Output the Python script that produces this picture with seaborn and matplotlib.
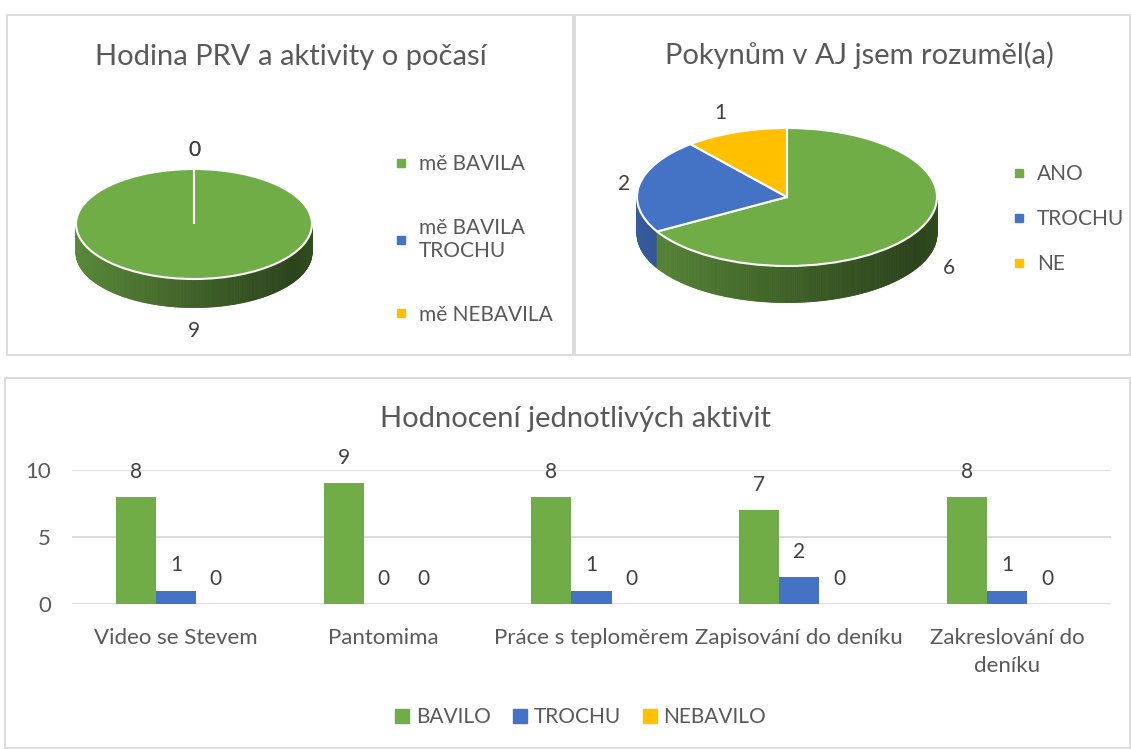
import numpy as np
import pandas as pd
import matplotlib
matplotlib.use("Agg")
import matplotlib.pyplot as plt
import seaborn as sns
from matplotlib.patches import Rectangle, Polygon
from matplotlib.lines import Line2D
from matplotlib.colors import to_rgb

# ---------------- data ----------------
pie1_title = "Hodina PRV a aktivity o počasí"
pie1_labels = ["mě BAVILA", "mě BAVILA\nTROCHU", "mě NEBAVILA"]
pie1_values = [9, 0, 0]

pie2_title = "Pokynům v AJ jsem rozuměl(a)"
pie2_labels = ["ANO", "TROCHU", "NE"]
pie2_values = [6, 2, 1]

bar_title = "Hodnocení jednotlivých aktivit"
activities = ["Video se Stevem", "Pantomima", "Práce s teploměrem",
              "Zapisování do deníku", "Zakreslování do\ndeníku"]
series_names = ["BAVILO", "TROCHU", "NEBAVILO"]
bavilo = [8, 9, 8, 7, 8]
trochu = [1, 0, 1, 2, 1]
nebavilo = [0, 0, 0, 0, 0]
yticks = [0, 5, 10]

colors = ["#70ad47", "#4472c4", "#ffc000"]
TXT = "#595959"
LBL = "#404040"

sns.set_theme(style="white")
plt.rcParams["font.family"] = ["Lato", "DejaVu Sans"]

W, H = 1131, 749
fig = plt.figure(figsize=(W / 100, H / 100), dpi=100)


def rect(left, top, right, bottom):
    return [left / W, 1 - bottom / H, (right - left) / W, (bottom - top) / H]


def fx(x):
    return x / W


def fy(y):
    return 1 - y / H


# panel borders
for (l, t, r, b) in [(7, 15, 573, 355), (575, 15, 1130, 355), (5, 378, 1130, 748)]:
    fig.add_artist(Rectangle((fx(l), fy(b)), (r - l) / W, (b - t) / H,
                             transform=fig.transFigure, fill=False,
                             edgecolor="#d9d9d9", linewidth=1.3))


def draw_pie(values, cx, cy, rx, ry, depth, label_r, below_shift):
    xl = (-1.6, 1.6)
    yl = (-2.4, 1.8)
    ax = fig.add_axes(rect(cx + xl[0] * rx, cy - yl[1] * ry,
                           cx + xl[1] * rx, cy - yl[0] * ry))
    wedges, _ = ax.pie(values, colors=colors, startangle=90, counterclock=False,
                       wedgeprops=dict(edgecolor="white", linewidth=1.5))
    for w in wedges:
        w.set_zorder(5)
    ax.set_aspect("auto")
    ax.set_xlim(xl)
    ax.set_ylim(yl)
    ax.axis("off")
    # 3D side (front half of the pie)
    thetas = np.linspace(180, 360, 241)
    for t1, t2 in zip(thetas[:-1], thetas[1:]):
        tm = (t1 + t2) / 2
        col = None
        for w, c in zip(wedges, colors):
            span = w.theta2 - w.theta1
            if span <= 0:
                continue
            if (tm - w.theta1) % 360 <= span:
                col = c
                break
        if col is None:
            continue
        xm = np.cos(np.radians(tm))
        f = 0.80 - 0.44 * ((xm + 1) / 2) ** 0.9
        if xm > 0.85:
            f += (xm - 0.85) * 0.5
        rgb = np.clip(np.array(to_rgb(col)) * f, 0, 1)
        a1, a2 = np.radians(t1), np.radians(t2)
        pts = [(np.cos(a1), np.sin(a1)), (np.cos(a2), np.sin(a2)),
               (np.cos(a2), np.sin(a2) - depth), (np.cos(a1), np.sin(a1) - depth)]
        ax.add_patch(Polygon(pts, closed=True, facecolor=rgb, edgecolor=rgb,
                             linewidth=0.6, zorder=2))
    # data labels
    for w, v, r in zip(wedges, values, label_r):
        mid = np.radians((w.theta1 + w.theta2) / 2)
        x = r * np.cos(mid)
        y = r * np.sin(mid)
        if np.sin(mid) < -0.1:
            y -= below_shift
        ax.text(x, y, f"{v}", ha="center", va="center", fontsize=15,
                color=LBL, zorder=6)
    return ax


# ---------------- pie 1 ----------------
ax1 = draw_pie(pie1_values, 194, 224, 118, 55, 0.52, [1.42, 1.35, 1.35], 0.52)
fig.text(fx(291), fy(57), pie1_title, ha="center", va="center",
         fontsize=21, color=TXT)
h1 = [Line2D([], [], marker="s", ls="", color=c, markersize=6) for c in colors]
fig.legend(h1, pie1_labels, loc="upper left",
           bbox_to_anchor=(fx(393), fy(154)), frameon=False, fontsize=15,
           labelcolor=TXT, handlelength=0.8, handletextpad=0.45,
           labelspacing=2.1, borderpad=0, borderaxespad=0)

# ---------------- pie 2 ----------------
ax2 = draw_pie(pie2_values, 787, 197, 150, 69, 0.53, [1.25, 1.1, 1.3], 0.4)
fig.text(fx(859), fy(55), pie2_title, ha="center", va="center",
         fontsize=21, color=TXT)
h2 = [Line2D([], [], marker="s", ls="", color=c, markersize=6) for c in colors]
fig.legend(h2, pie2_labels, loc="upper left",
           bbox_to_anchor=(fx(1011), fy(164)), frameon=False, fontsize=15,
           labelcolor=TXT, handlelength=0.8, handletextpad=0.45,
           labelspacing=1.2, borderpad=0, borderaxespad=0)

# ---------------- bar chart ----------------
df = pd.DataFrame({
    "activity": activities * 3,
    "series": [series_names[0]] * 5 + [series_names[1]] * 5 + [series_names[2]] * 5,
    "value": bavilo + trochu + nebavilo,
})
axb = fig.add_axes(rect(72, 470, 1111, 604))
sns.barplot(data=df, x="activity", y="value", hue="series", order=activities,
            hue_order=series_names, palette=colors, saturation=1, width=0.5775,
            linewidth=0, ax=axb, legend=False)
axb.set_xlim(-0.5, 4.5)
axb.set_ylim(0, 10)
axb.set_yticks(yticks)
axb.set_xlabel("")
axb.set_ylabel("")
for s in axb.spines.values():
    s.set_visible(False)
axb.grid(axis="y", color="#d9d9d9", linewidth=1.3)
axb.set_axisbelow(True)
axb.tick_params(axis="y", length=0, pad=15, labelsize=16, labelcolor=TXT)
axb.tick_params(axis="x", length=0, pad=17, labelsize=16, labelcolor=TXT)
for t in axb.get_xticklabels():
    t.set_linespacing(1.5)
for cont in axb.containers:
    for t in axb.bar_label(cont, padding=11, fontsize=15, color=LBL):
        t.set_clip_on(False)

fig.text(fx(575), fy(419), bar_title, ha="center", va="center",
         fontsize=21, color=TXT)
hb = [Line2D([], [], marker="s", ls="", color=c, markersize=10) for c in colors]
fig.legend(hb, series_names, loc="center", bbox_to_anchor=(fx(580), fy(717)),
           ncol=3, frameon=False, fontsize=15, labelcolor=TXT,
           handlelength=0.8, handletextpad=0.25, columnspacing=1.0)

fig.savefig("out.png", dpi=100)
